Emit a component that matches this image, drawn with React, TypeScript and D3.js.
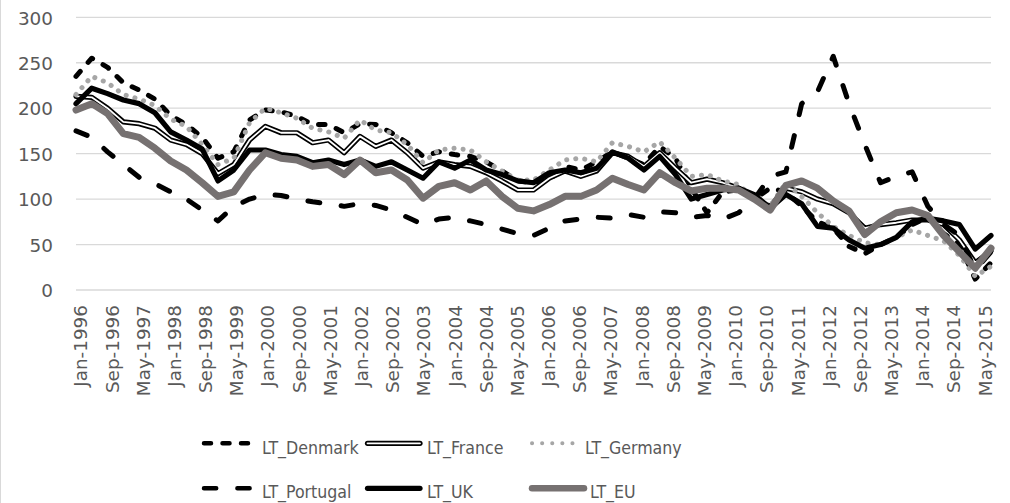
import React from 'react';
import * as d3 from 'd3';

// ---------- DATA ----------
const tickLabels = [
  'Jan-1996', 'Sep-1996', 'May-1997', 'Jan-1998', 'Sep-1998', 'May-1999',
  'Jan-2000', 'Sep-2000', 'May-2001', 'Jan-2002', 'Sep-2002', 'May-2003',
  'Jan-2004', 'Sep-2004', 'May-2005', 'Jan-2006', 'Sep-2006', 'May-2007',
  'Jan-2008', 'Sep-2008', 'May-2009', 'Jan-2010', 'Sep-2010', 'May-2011',
  'Jan-2012', 'Sep-2012', 'May-2013', 'Jan-2014', 'Sep-2014', 'May-2015',
];
const yTicks = [0, 50, 100, 150, 200, 250, 300];

// one value every 4 months: Jan, May, Sep ... from Jan-1996 to May-2015
const denmark = [
  235, 255, 245, 228, 220, 210, 192, 182, 168, 145, 152, 187, 198, 196, 191, 182, 182, 173, 183, 182,
  173, 162, 147, 152, 149, 147, 141, 131, 120, 118, 121, 136, 132, 141, 152, 145, 138, 158, 145, 112,
  85, 108, 110, 100, 112, 108, 92, 75, 68, 48, 40, 50, 58, 72, 80, 62, 50, 12, 30,
];
const france = [
  213, 212, 200, 185, 183, 178, 165, 160, 150, 128, 138, 165, 180, 173, 173, 162, 165, 151, 169, 158,
  165, 151, 134, 141, 138, 136, 129, 120, 110, 110, 123, 131, 125, 131, 151, 147, 136, 151, 134, 118,
  122, 118, 112, 100, 92, 112, 108, 100, 95, 85, 68, 72, 74, 77, 77, 72, 55, 30, 43,
];
const germany = [
  215, 235, 228, 215, 210, 203, 188, 180, 160, 138, 145, 184, 200, 195, 189, 178, 174, 167, 187, 176,
  173, 160, 140, 154, 156, 154, 141, 131, 121, 121, 132, 143, 145, 141, 162, 158, 152, 163, 145, 125,
  127, 120, 116, 100, 92, 118, 103, 85, 70, 60, 52, 50, 58, 66, 60, 54, 38, 15, 26,
];
const portugal = [
  175, 168, 152, 138, 124, 117, 108, 100, 88, 76, 92, 100, 105, 104, 100, 97, 95, 92, 95, 93,
  88, 80, 72, 78, 80, 76, 72, 67, 62, 60, 68, 76, 78, 80, 79, 83, 80, 86, 85, 80,
  82, 78, 85, 100, 125, 130, 205, 218, 257, 205, 160, 118, 125, 130, 92, 72, 60, 22, 42,
];
const uk = [
  205, 222, 216, 209, 205, 195, 174, 165, 155, 120, 132, 154, 154, 149, 147, 140, 143, 138, 143, 136,
  141, 132, 123, 141, 134, 143, 132, 127, 120, 118, 129, 132, 129, 134, 152, 145, 132, 147, 127, 100,
  105, 110, 112, 105, 90, 105, 95, 70, 68, 55, 46, 50, 58, 75, 79, 76, 72, 45, 60,
];
const eu = [
  198, 205, 194, 172, 168, 156, 142, 132, 118, 103, 108, 132, 151, 145, 143, 136, 138, 127, 143, 129,
  132, 121, 101, 114, 118, 110, 120, 103, 90, 87, 94, 103, 103, 110, 123, 116, 110, 129, 118, 109,
  112, 112, 110, 100, 88, 115, 120, 112, 98, 87, 61, 75, 85, 88, 82, 60, 42, 24, 46,
];

// ---------- LAYOUT ----------
const W = 1010;
const H = 503;
const plotLeft = 76;
const plotRight = 991;
const plotTop = 17.3;
const plotBottom = 290;
const textColor = '#595959';
const gridColor = '#d9d9d9';
const font = '"DejaVu Sans", sans-serif';
const legendFont = '"DejaVu Sans Condensed", "DejaVu Sans", sans-serif';

const dataDates = d3.timeMonth.every(4)!.range(new Date(1996, 0, 1), new Date(2015, 5, 1));
const monthIndex = (d: Date) => (d.getFullYear() - 1996) * 12 + d.getMonth();
const parseLabel = d3.timeParse('%b-%Y');
const lastMonth = monthIndex(parseLabel(tickLabels[tickLabels.length - 1])!);

const x = d3.scaleLinear().domain([0, lastMonth]).range([plotLeft, plotRight]);
const xLabel = d3.scaleLinear().domain([0, lastMonth]).range([80.7, 985]);
const y = d3.scaleLinear().domain([0, 300]).range([plotBottom, plotTop]);

const line = d3
  .line<number>()
  .x((_, i) => x(monthIndex(dataDates[i])))
  .y((v) => y(v));

type Style = {
  stroke: string;
  width: number;
  dash?: string;
  legendDash?: string;
  legendWidth?: number;
  inner?: { stroke: string; width: number };
};

const styles: Record<string, Style> = {
  LT_Denmark: { stroke: '#000', width: 5, dash: '6.5 12', legendWidth: 4.5, legendDash: '7 11.5' },
  LT_France: { stroke: '#000', width: 5.2, inner: { stroke: '#fff', width: 1.8 } },
  LT_Germany: { stroke: '#a6a6a6', width: 5, dash: '0.1 9', legendWidth: 4, legendDash: '0.1 10' },
  LT_Portugal: { stroke: '#000', width: 5, dash: '12 21.5', legendWidth: 4.5, legendDash: '12.2 21.2' },
  LT_UK: { stroke: '#000', width: 5.2 },
  LT_EU: { stroke: '#767171', width: 7 },
};

const series: { name: string; values: number[] }[] = [
  { name: 'LT_Denmark', values: denmark },
  { name: 'LT_France', values: france },
  { name: 'LT_Germany', values: germany },
  { name: 'LT_Portugal', values: portugal },
  { name: 'LT_UK', values: uk },
  { name: 'LT_EU', values: eu },
];

const legendItems = [
  { name: 'LT_Denmark', x1: 204, x2: 250, tx: 262, ly: 443.3, ty: 453.5 },
  { name: 'LT_France', x1: 367.5, x2: 420, tx: 427, ly: 443.3, ty: 453.5 },
  { name: 'LT_Germany', x1: 532, x2: 582.1, tx: 585, ly: 443.3, ty: 453.5 },
  { name: 'LT_Portugal', x1: 204, x2: 250, tx: 262, ly: 488.3, ty: 497.5 },
  { name: 'LT_UK', x1: 367.5, x2: 420, tx: 427, ly: 488.3, ty: 497.5 },
  { name: 'LT_EU', x1: 532, x2: 584, tx: 590, ly: 488.3, ty: 497.5 },
];

function Stroke({ d, s, legend }: { d: string; s: Style; legend?: boolean }) {
  const dash = legend && s.legendDash ? s.legendDash : s.dash;
  const width = legend ? s.legendWidth ?? Math.min(s.width, 6.5) : s.width;
  return (
    <g>
      <path
        d={d}
        fill="none"
        stroke={s.stroke}
        strokeWidth={width}
        strokeDasharray={dash}
        strokeLinecap="round"
        strokeLinejoin="round"
      />
      {s.inner && (
        <path
          d={d}
          fill="none"
          stroke={s.inner.stroke}
          strokeWidth={s.inner.width}
          strokeLinecap="round"
          strokeLinejoin="round"
        />
      )}
    </g>
  );
}

export default function App() {
  return (
    <svg
      width={W}
      height={H}
      viewBox={`0 0 ${W} ${H}`}
      style={{ position: 'absolute', left: 0, top: 0, background: '#fff' }}
    >
      <rect x={0} y={0} width={W} height={H} fill="#fff" />
      <line x1={0.5} x2={0.5} y1={0} y2={H} stroke={gridColor} strokeWidth={1} />

      {/* gridlines + y labels */}
      {yTicks.map((t) => (
        <g key={t}>
          <line
            x1={plotLeft}
            x2={plotRight}
            y1={y(t)}
            y2={y(t)}
            stroke={gridColor}
            strokeWidth={1.3}
          />
          <text
            x={53}
            y={y(t) + 7.2}
            textAnchor="end"
            fontFamily={font}
            fontSize={18.4}
            fill={textColor}
          >
            {t}
          </text>
        </g>
      ))}

      {/* x labels */}
      {tickLabels.map((lab) => {
        const m = monthIndex(parseLabel(lab)!);
        return (
          <text
            key={lab}
            transform={`translate(${xLabel(m)},305) rotate(-90)`}
            textAnchor="end"
            dy="0.36em"
            fontFamily={font}
            fontSize={18.4}
            fill={textColor}
          >
            {lab}
          </text>
        );
      })}

      {/* series */}
      {series.map((s) => (
        <Stroke key={s.name} d={line(s.values) || ''} s={styles[s.name]} />
      ))}

      {/* legend */}
      {legendItems.map((it) => (
        <g key={it.name}>
          <Stroke d={`M${it.x1},${it.ly}L${it.x2},${it.ly}`} s={styles[it.name]} legend />
          <text x={it.tx} y={it.ty} fontFamily={legendFont} fontSize={17.6} fill={textColor}>
            {it.name}
          </text>
        </g>
      ))}
    </svg>
  );
}
